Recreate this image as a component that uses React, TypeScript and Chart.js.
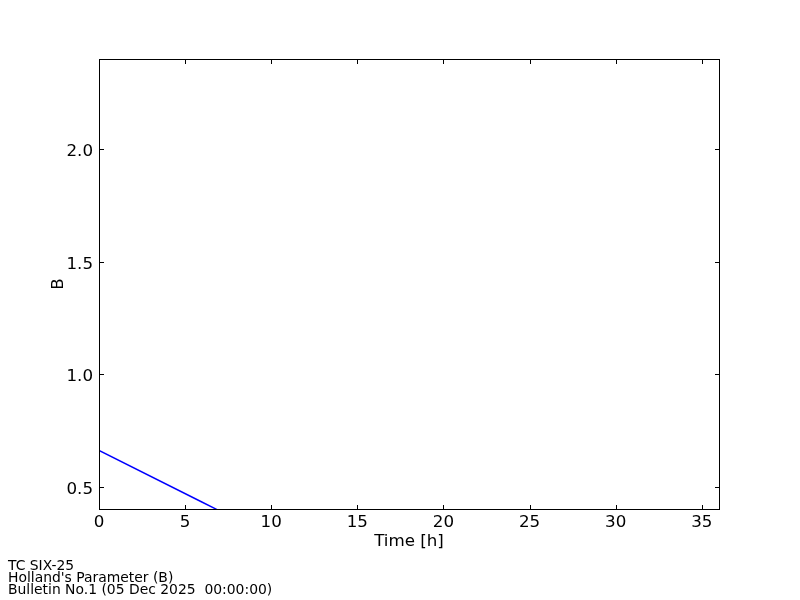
import React, { useEffect, useRef } from "react";
import { Chart, registerables } from "chart.js";

Chart.register(...registerables);

const hours = [0, 6, 12];
const bValues = [0.66, 0.43, 0.2];
const xTicks = [0, 5, 10, 15, 20, 25, 30, 35];
const yTicks = [0.5, 1.0, 1.5, 2.0];
const footerLines = ["TC SIX-25", "Holland's Parameter (B)", "Bulletin No.1 (05 Dec 2025  00:00:00)"];

const FONT = "'DejaVu Sans', sans-serif";

const framePlugin = {
  id: "frame",
  afterDraw(chart: any) {
    const { ctx, chartArea } = chart;
    const left = Math.round(chartArea.left);
    const right = Math.round(chartArea.right);
    const top = Math.round(chartArea.top);
    const bottom = Math.round(chartArea.bottom);
    const xs = chart.scales.x;
    const ys = chart.scales.y;
    ctx.save();
    ctx.strokeStyle = "#000";
    ctx.lineWidth = 1;
    ctx.strokeRect(left + 0.5, top + 0.5, right - left, bottom - top);
    ctx.beginPath();
    for (const t of xTicks) {
      const px = Math.round(xs.getPixelForValue(t)) + 0.5;
      ctx.moveTo(px, bottom);
      ctx.lineTo(px, bottom - 4);
      ctx.moveTo(px, top + 1);
      ctx.lineTo(px, top + 5);
    }
    for (const t of yTicks) {
      const py = Math.round(ys.getPixelForValue(t)) + 0.5;
      ctx.moveTo(left + 1, py);
      ctx.lineTo(left + 5, py);
      ctx.moveTo(right, py);
      ctx.lineTo(right - 4, py);
    }
    ctx.stroke();

    ctx.fillStyle = "#000";
    ctx.font = `16.7px ${FONT}`;
    ctx.textBaseline = "alphabetic";
    ctx.textAlign = "center";
    for (const t of xTicks) {
      ctx.fillText(String(t), xs.getPixelForValue(t), 527);
    }
    ctx.textAlign = "right";
    for (const t of yTicks) {
      ctx.fillText(t.toFixed(1), left - 6, ys.getPixelForValue(t) + 7);
    }

    ctx.textAlign = "center";
    ctx.fillText("Time [h]", (left + right) / 2, 546);
    ctx.save();
    ctx.translate(63, (top + bottom) / 2);
    ctx.rotate(-Math.PI / 2);
    ctx.fillText("B", 0, 0);
    ctx.restore();

    ctx.font = `13.9px ${FONT}`;
    ctx.textAlign = "left";
    ctx.textBaseline = "alphabetic";
    footerLines.forEach((line, i) => {
      ctx.fillText(line, 8, 570 + i * 12);
    });
    ctx.restore();
  },
};

export default function App() {
  const ref = useRef<HTMLCanvasElement | null>(null);
  useEffect(() => {
    if (!ref.current) return;
    const chart = new Chart(ref.current, {
      type: "line",
      data: {
        datasets: [
          {
            data: hours.map((h, i) => ({ x: h, y: bValues[i] })),
            borderColor: "#0000ff",
            borderWidth: 1.4,
            pointRadius: 0,
            fill: false,
            tension: 0,
          },
        ],
      },
      options: {
        responsive: false,
        animation: false,
        layout: { padding: { left: 0, top: 59, right: 81, bottom: 0 } },
        plugins: { legend: { display: false }, tooltip: { enabled: false }, title: { display: false } },
        scales: {
          x: {
            type: "linear",
            min: 0,
            max: 36,
            grid: { display: false, drawTicks: false },
            border: { display: false },
            afterFit(scale: any) {
              scale.height = 91;
            },
            afterBuildTicks(scale: any) {
              scale.ticks = xTicks.map((v) => ({ value: v }));
            },
            ticks: { display: false },
          },
          y: {
            type: "linear",
            min: 0.4,
            max: 2.4,
            grid: { display: false, drawTicks: false },
            border: { display: false },
            afterFit(scale: any) {
              scale.width = 99;
            },
            afterBuildTicks(scale: any) {
              scale.ticks = yTicks.map((v) => ({ value: v }));
            },
            ticks: { display: false },
          },
        },
      },
      plugins: [framePlugin],
    });
    return () => chart.destroy();
  }, []);
  return (
    <div style={{ position: "absolute", left: 0, top: 0, width: 800, height: 600, background: "#fff" }}>
      <canvas ref={ref} width={800} height={600} />
    </div>
  );
}
